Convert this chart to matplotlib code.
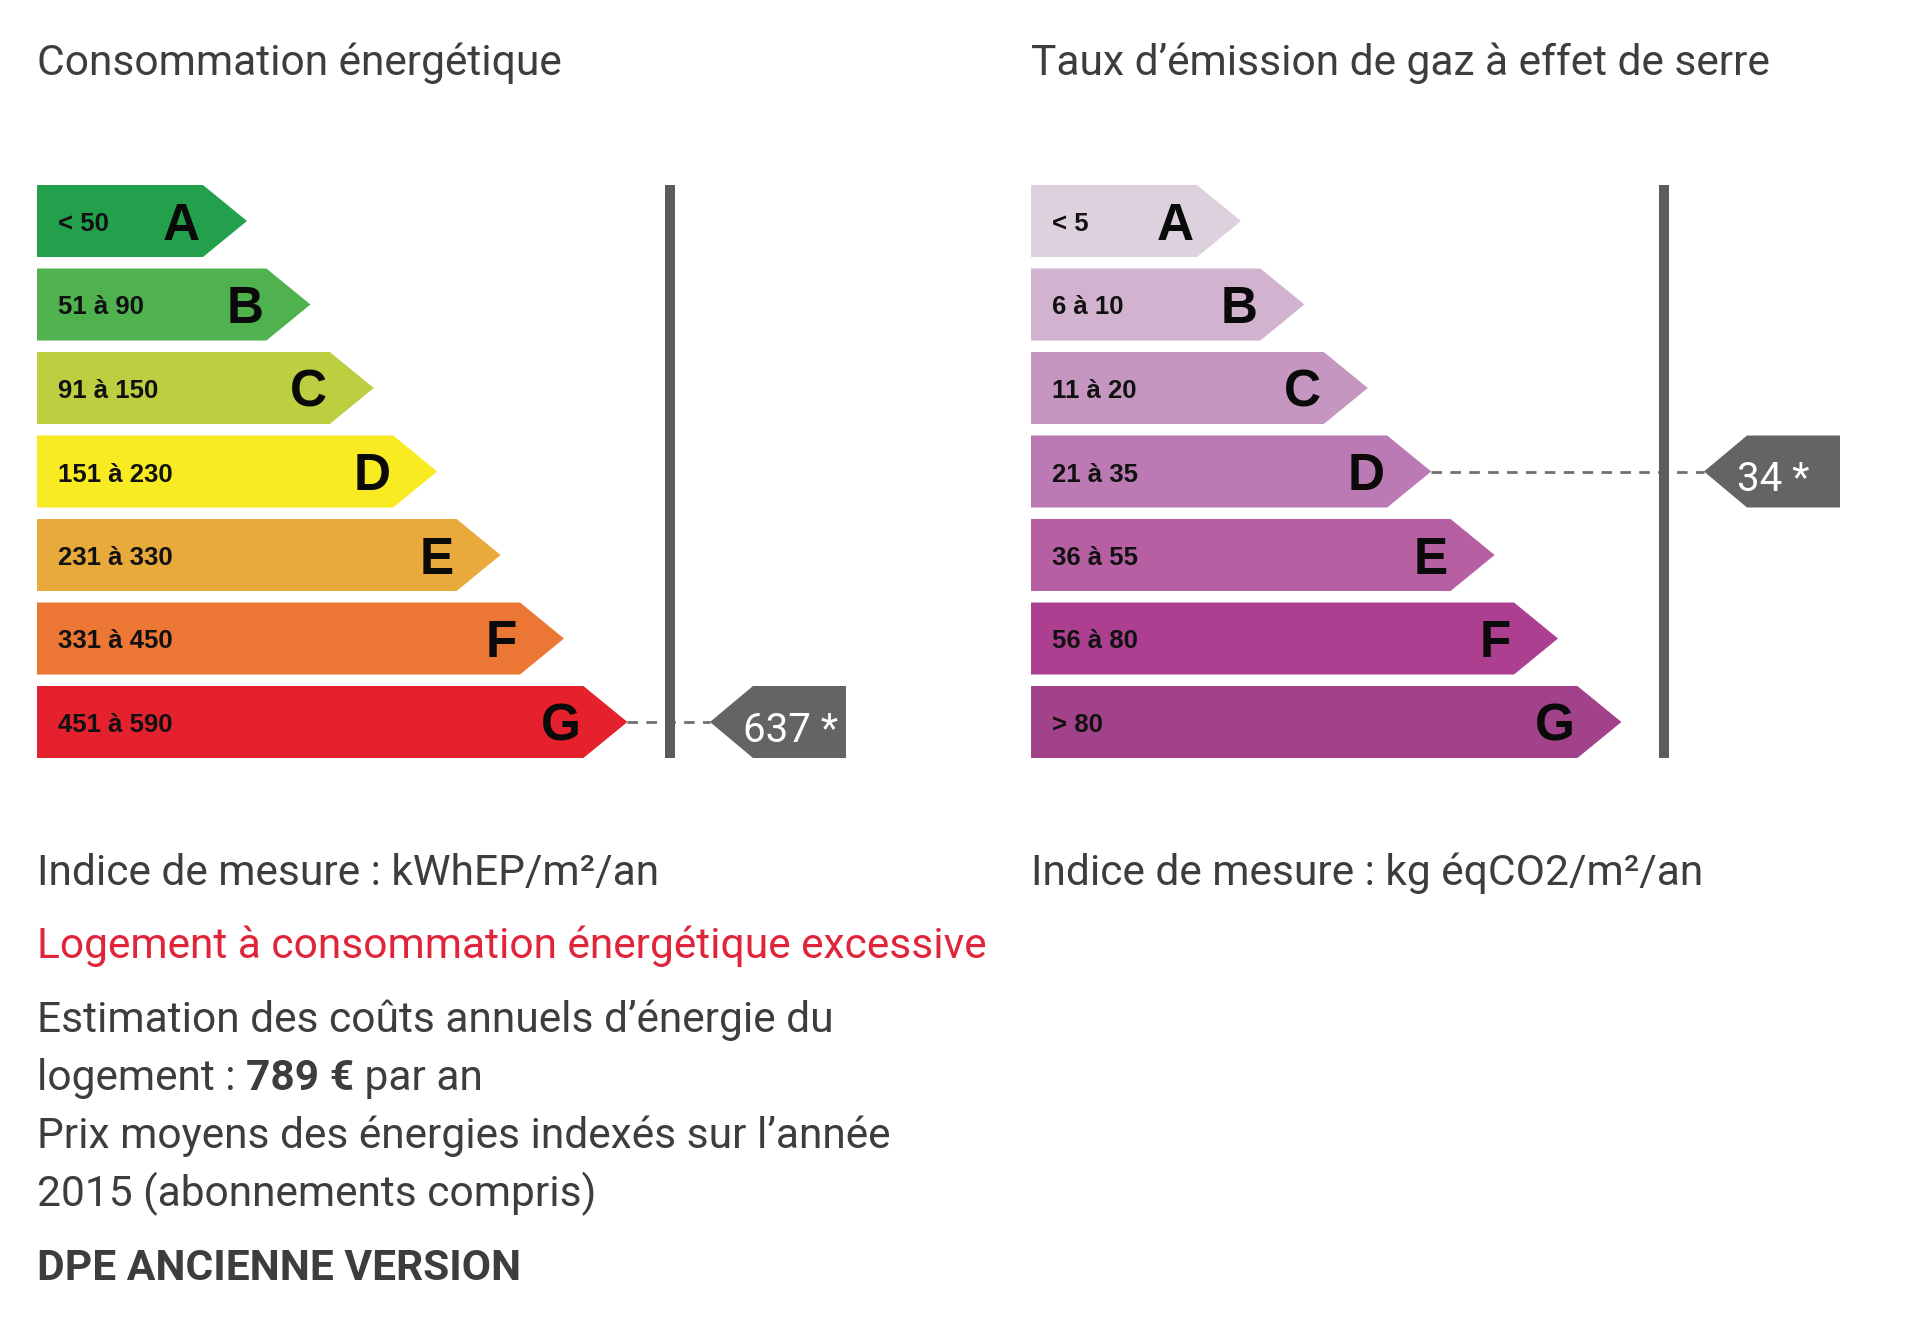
import matplotlib
matplotlib.use("Agg")
import matplotlib.pyplot as plt
from matplotlib.patches import Polygon

# ---- data ----
classes = ["A", "B", "C", "D", "E", "F", "G"]
energy_ranges = ["< 50", "51 à 90", "91 à 150", "151 à 230", "231 à 330", "331 à 450", "451 à 590"]
ges_ranges = ["< 5", "6 à 10", "11 à 20", "21 à 35", "36 à 55", "56 à 80", "> 80"]
energy_colors = ["#22a04c", "#4fb24f", "#bccf40", "#f9eb22", "#e8aa3b", "#ec7633", "#e6212e"]
ges_colors = ["#dcd1dc", "#d2b3cf", "#c596c0", "#bc7ab4", "#b660a3", "#ad3f90", "#a1428a"]
energy_value, energy_class = 637, "G"
ges_value, ges_class = 34, "D"

energy_title = "Consommation énergétique"
ges_title = "Taux d’émission de gaz à effet de serre"
energy_unit = "Indice de mesure : kWhEP/m²/an"
ges_unit = "Indice de mesure : kg éqCO2/m²/an"
warning_text = "Logement à consommation énergétique excessive"
cost_value = "789 €"
footer = "DPE ANCIENNE VERSION"

# ---- layout (pixels) ----
W, H = 1920, 1324
ROW_TOP, ROW_PITCH, ROW_H = 185, 83.5, 72
BASE_LEN, STEP, TIP_DEPTH = 210, 63.4, 44
LINE_OFF = 633
MARK_TIP, MARK_NECK, MARK_END = 673, 716, 809

TXT = "#3d3d3d"
GREY = "#5c5c5c"
MARK = "#646464"
BODY_FONT = ["Roboto", "DejaVu Sans"]
NARROW = ["Liberation Sans Narrow", "Liberation Sans", "DejaVu Sans"]
ARIAL = ["Liberation Sans", "DejaVu Sans"]
FS = 30.6

fig = plt.figure(figsize=(W / 100, H / 100), dpi=100)
ax = fig.add_axes([0, 0, 1, 1])
ax.set_xlim(0, W)
ax.set_ylim(H, 0)
ax.axis("off")


def draw_panel(x0, ranges, colors, value, value_class):
    n = len(classes)
    for i, (letter, rng, col) in enumerate(zip(classes, ranges, colors)):
        top = ROW_TOP + i * ROW_PITCH
        bot = top + ROW_H
        mid = top + ROW_H / 2
        tip = x0 + BASE_LEN + i * STEP
        body = tip - TIP_DEPTH
        ax.add_patch(Polygon([(x0, top), (body, top), (tip, mid), (body, bot), (x0, bot)],
                             closed=True, fc=col, ec="none", zorder=2))
        ax.text(x0 + 21, mid + 10, rng, family=NARROW, weight="bold", fontsize=18.5,
                color="#111111", ha="left", va="baseline", zorder=3)
        ax.text(body - 3, mid + 18.5, letter, family=ARIAL, weight="bold", fontsize=37,
                color="#0a0a0a", ha="right", va="baseline", zorder=3)

    # vertical separator
    ax.plot([x0 + LINE_OFF] * 2, [ROW_TOP, ROW_TOP + (n - 1) * ROW_PITCH + ROW_H],
            color=GREY, lw=7.2, solid_capstyle="butt", zorder=2)

    # value marker
    k = classes.index(value_class)
    top = ROW_TOP + k * ROW_PITCH
    bot = top + ROW_H
    mid = top + ROW_H / 2
    tip = x0 + BASE_LEN + k * STEP
    ax.plot([tip, x0 + MARK_TIP], [mid, mid], color="#707070", lw=2.0,
            linestyle=(0, (3.8, 3.0)), zorder=1)
    ax.add_patch(Polygon([(x0 + MARK_TIP, mid), (x0 + MARK_NECK, top), (x0 + MARK_END, top),
                          (x0 + MARK_END, bot), (x0 + MARK_NECK, bot)],
                         closed=True, fc=MARK, ec="none", zorder=2))
    ax.text(x0 + MARK_TIP + 33, mid + 19.5, f"{value} *", family=BODY_FONT, fontsize=29,
            color="white", ha="left", va="baseline", zorder=3)


LEFT_X, RIGHT_X = 37, 1031
ax.text(LEFT_X, 75, energy_title, family=BODY_FONT, fontsize=FS, color=TXT, va="baseline")
ax.text(RIGHT_X, 75, ges_title, family=BODY_FONT, fontsize=FS, color=TXT, va="baseline")

draw_panel(LEFT_X, energy_ranges, energy_colors, energy_value, energy_class)
draw_panel(RIGHT_X, ges_ranges, ges_colors, ges_value, ges_class)

ax.text(LEFT_X, 885, energy_unit, family=BODY_FONT, fontsize=FS, color=TXT, va="baseline")
ax.text(RIGHT_X, 885, ges_unit, family=BODY_FONT, fontsize=FS, color=TXT, va="baseline")
ax.text(LEFT_X, 958, warning_text, family=BODY_FONT, fontsize=FS, color="#e0253b", va="baseline")
ax.text(LEFT_X, 1032, "Estimation des coûts annuels d’énergie du", family=BODY_FONT,
        fontsize=FS, color=TXT, va="baseline")

# mixed-weight line: "logement : 789 € par an"
fig.canvas.draw()
renderer = fig.canvas.get_renderer()
inv = ax.transData.inverted()
x = LEFT_X
for part, wt in [("logement : ", "normal"), (cost_value, "bold"), (" par an", "normal")]:
    t = ax.text(x, 1090, part, family=BODY_FONT, fontsize=FS, weight=wt, color=TXT, va="baseline")
    bb = t.get_window_extent(renderer)
    x = inv.transform((bb.x1, bb.y0))[0]

ax.text(LEFT_X, 1148, "Prix moyens des énergies indexés sur l’année", family=BODY_FONT,
        fontsize=FS, color=TXT, va="baseline")
ax.text(LEFT_X, 1206, "2015 (abonnements compris)", family=BODY_FONT,
        fontsize=FS, color=TXT, va="baseline")
ax.text(LEFT_X, 1280, footer, family=BODY_FONT, fontsize=FS, weight="bold",
        color=TXT, va="baseline")

fig.savefig("out.png", dpi=100, facecolor="white")
